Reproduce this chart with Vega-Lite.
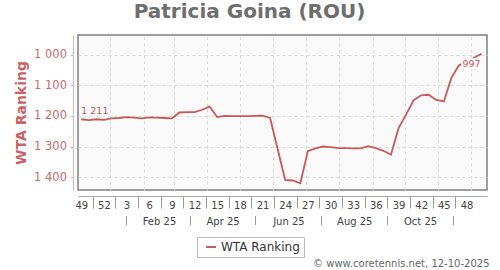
{
  "$schema": "https://vega.github.io/schema/vega-lite/v6.json",
  "width": 409,
  "height": 155,
  "autosize": {"type": "none"},
  "padding": {"left": 78, "top": 35, "right": 13, "bottom": 80},
  "background": "white",
  "title": {"text": "Patricia Goina (ROU)", "font": "DejaVu Sans", "fontSize": 20, "fontWeight": "bold", "color": "#6e6e6e", "baseline": "alphabetic", "offset": 15, "dy": 18, "dx": -33, "anchor": "middle"},
  "config": {
    "view": {"fill": "#fafafa", "stroke": "#808080", "strokeWidth": 1.5},
    "font": "DejaVu Sans"
  },
  "data": {
    "values": [
      {"date":"2024-12-05","rank":1211},{"date":"2024-12-12","rank":1214},{"date":"2024-12-19","rank":1211},{"date":"2024-12-26","rank":1213},
      {"date":"2025-01-02","rank":1208},{"date":"2025-01-09","rank":1207},{"date":"2025-01-16","rank":1204},{"date":"2025-01-23","rank":1206},
      {"date":"2025-01-30","rank":1208},{"date":"2025-02-06","rank":1205},{"date":"2025-02-13","rank":1206},{"date":"2025-02-20","rank":1207},
      {"date":"2025-02-27","rank":1208},{"date":"2025-03-06","rank":1189},{"date":"2025-03-13","rank":1188},{"date":"2025-03-20","rank":1188},
      {"date":"2025-03-27","rank":1180},{"date":"2025-04-03","rank":1170},{"date":"2025-04-10","rank":1204},{"date":"2025-04-17","rank":1200},
      {"date":"2025-04-24","rank":1201},{"date":"2025-05-01","rank":1201},{"date":"2025-05-08","rank":1201},{"date":"2025-05-15","rank":1200},
      {"date":"2025-05-22","rank":1199},{"date":"2025-05-29","rank":1207},{"date":"2025-06-05","rank":1308},{"date":"2025-06-12","rank":1409},
      {"date":"2025-06-19","rank":1411},{"date":"2025-06-26","rank":1420},{"date":"2025-07-03","rank":1315},{"date":"2025-07-10","rank":1306},
      {"date":"2025-07-17","rank":1300},{"date":"2025-07-24","rank":1302},{"date":"2025-07-31","rank":1305},{"date":"2025-08-07","rank":1305},
      {"date":"2025-08-14","rank":1306},{"date":"2025-08-21","rank":1306},{"date":"2025-08-28","rank":1299},{"date":"2025-09-04","rank":1305},
      {"date":"2025-09-11","rank":1314},{"date":"2025-09-18","rank":1327},{"date":"2025-09-25","rank":1241},{"date":"2025-10-02","rank":1196},
      {"date":"2025-10-09","rank":1149},{"date":"2025-10-16","rank":1133},{"date":"2025-10-23","rank":1131},{"date":"2025-10-30","rank":1148},
      {"date":"2025-11-06","rank":1153},{"date":"2025-11-13","rank":1076},{"date":"2025-11-20","rank":1035},{"date":"2025-11-27","rank":1024},
      {"date":"2025-12-04","rank":1010},{"date":"2025-12-11","rank":997}
    ],
    "format": {"parse": {"date": "utc:'%Y-%m-%d'"}}
  },
  "resolve": {"axis": {"x": "independent", "y": "independent"}},
  "layer": [
    {
      "mark": {"type": "line", "strokeWidth": 1.8},
      "encoding": {
        "x": {
          "field": "date", "type": "temporal",
          "scale": {"type": "utc", "domain": [{"year": 2024, "month": 12, "date": 2, "utc": true}, {"year": 2025, "month": 12, "date": 16, "utc": true}]},
          "axis": {
            "orient": "bottom", "title": null, "labels": false, "ticks": false, "domain": false, "grid": true,
            "gridColor": "#d9d9d9", "gridDash": [3, 3],
            "values": [
              {"year": 2025, "month": 1, "date": 1, "utc": true}, {"year": 2025, "month": 2, "date": 1, "utc": true},
              {"year": 2025, "month": 3, "date": 1, "utc": true}, {"year": 2025, "month": 4, "date": 1, "utc": true},
              {"year": 2025, "month": 5, "date": 1, "utc": true}, {"year": 2025, "month": 6, "date": 1, "utc": true},
              {"year": 2025, "month": 7, "date": 1, "utc": true}, {"year": 2025, "month": 8, "date": 1, "utc": true},
              {"year": 2025, "month": 9, "date": 1, "utc": true}, {"year": 2025, "month": 10, "date": 1, "utc": true},
              {"year": 2025, "month": 11, "date": 1, "utc": true}, {"year": 2025, "month": 12, "date": 1, "utc": true}
            ]
          }
        },
        "y": {
          "field": "rank", "type": "quantitative",
          "scale": {"domain": [936, 1442], "reverse": true, "nice": false, "zero": false},
          "axis": {
            "orient": "left",
            "values": [1000, 1100, 1200, 1300, 1400],
            "labelExpr": "replace(format(datum.value, ','), ',', ' ')",
            "labelOverlap": false, "offset": 5,
            "domainColor": "#e2b3b3", "tickColor": "#e2b3b3", "tickSize": 3,
            "labelColor": "#cc6a6a", "labelFont": "DejaVu Sans", "labelFontSize": 11.5, "labelPadding": 3.5,
            "gridColor": "#d9d9d9", "gridDash": [3, 3],
            "title": "WTA Ranking", "titleColor": "#c96363", "titleFont": "DejaVu Sans", "titleFontSize": 14, "titleFontWeight": "bold", "titlePadding": 5
          }
        },
        "color": {
          "datum": "WTA Ranking", "type": "nominal",
          "scale": {"range": ["#c85a5a"]},
          "legend": {
            "title": null, "orient": "none", "legendX": 119, "legendY": 202,
            "strokeColor": "#bbbbbb", "padding": 4, "cornerRadius": 0,
            "labelFont": "DejaVu Sans", "labelFontSize": 12, "labelColor": "#333333", "labelOffset": 4,
            "symbolType": "stroke", "symbolSize": 100, "symbolStrokeWidth": 2, "symbolOffset": 4
          }
        }
      }
    },
    {
      "transform": [{"filter": "time(datum.date) == utc(2024, 11, 5)"}],
      "mark": {"type": "text", "align": "left", "baseline": "alphabetic", "dy": -5, "fontSize": 9.5, "font": "DejaVu Sans", "color": "#c85a5a",
               "text": {"expr": "replace(format(datum.rank, ','), ',', ' ')"}},
      "encoding": {
        "x": {
          "field": "date", "type": "temporal",
          "axis": {
            "orient": "bottom", "title": null, "offset": 6, "domain": true, "domainColor": "#aaaaaa", "grid": false,
            "ticks": true, "tickSize": 12, "tickColor": "#999999", "tickOffset": 11.33,
            "tickOpacity": {"condition": {"test": "datum.value > utc(2025,10,20)", "value": 0}, "value": 1},
            "labelOffset": -11.33, "labelPadding": -8, "format": "%V",
            "labelExpr": "'' + toNumber(datum.label)",
            "labelFont": "DejaVu Sans", "labelFontSize": 10, "labelColor": "#444444",
            "labelOverlap": false, "labelBound": false, "labelFlush": false,
            "values": [
              {"year": 2024, "month": 12, "date": 5, "utc": true}, {"year": 2024, "month": 12, "date": 26, "utc": true},
              {"year": 2025, "month": 1, "date": 16, "utc": true}, {"year": 2025, "month": 2, "date": 6, "utc": true},
              {"year": 2025, "month": 2, "date": 27, "utc": true}, {"year": 2025, "month": 3, "date": 20, "utc": true},
              {"year": 2025, "month": 4, "date": 10, "utc": true}, {"year": 2025, "month": 5, "date": 1, "utc": true},
              {"year": 2025, "month": 5, "date": 22, "utc": true}, {"year": 2025, "month": 6, "date": 12, "utc": true},
              {"year": 2025, "month": 7, "date": 3, "utc": true}, {"year": 2025, "month": 7, "date": 24, "utc": true},
              {"year": 2025, "month": 8, "date": 14, "utc": true}, {"year": 2025, "month": 9, "date": 4, "utc": true},
              {"year": 2025, "month": 9, "date": 25, "utc": true}, {"year": 2025, "month": 10, "date": 16, "utc": true},
              {"year": 2025, "month": 11, "date": 6, "utc": true}, {"year": 2025, "month": 11, "date": 27, "utc": true}
            ]
          }
        },
        "y": {"field": "rank", "type": "quantitative", "axis": null}
      }
    },
    {
      "transform": [{"filter": "time(datum.date) == utc(2025, 11, 11)"}],
      "mark": {"type": "text", "align": "right", "baseline": "alphabetic", "dx": -1, "dy": 13, "fontSize": 9.5, "font": "DejaVu Sans", "fill": "#fafafa", "stroke": "#fafafa", "strokeWidth": 4,
               "text": {"expr": "replace(format(datum.rank, ','), ',', ' ')"}},
      "encoding": {
        "x": {
          "field": "date", "type": "temporal",
          "axis": {
            "orient": "bottom", "offset": 25.5, "domain": false, "grid": false,
            "ticks": true, "tickSize": 9, "tickColor": "#999999", "tickOffset": -33,
            "labelOffset": 33, "labelPadding": -8, "format": "%b %y",
            "labelExpr": "utcmonth(datum.value) == 11 ? '' : datum.label",
            "labelFont": "DejaVu Sans", "labelFontSize": 10, "labelColor": "#444444",
            "labelOverlap": false, "labelBound": false, "labelFlush": false,
            "values": [
              {"year": 2025, "month": 2, "date": 15, "utc": true}, {"year": 2025, "month": 4, "date": 15, "utc": true},
              {"year": 2025, "month": 6, "date": 15, "utc": true}, {"year": 2025, "month": 8, "date": 15, "utc": true},
              {"year": 2025, "month": 10, "date": 15, "utc": true}, {"year": 2025, "month": 12, "date": 15, "utc": true}
            ],
            "title": "© www.coretennis.net, 12-10-2025",
            "titleX": 411, "titleY": 51, "titleAlign": "right", "titleBaseline": "alphabetic",
            "titleFont": "DejaVu Sans", "titleFontSize": 10, "titleFontWeight": "normal", "titleColor": "#666666"
          }
        },
        "y": {"field": "rank", "type": "quantitative", "axis": null}
      }
    },
    {
      "transform": [{"filter": "time(datum.date) == utc(2025, 11, 11)"}],
      "mark": {"type": "text", "align": "right", "baseline": "alphabetic", "dx": -1, "dy": 13, "fontSize": 9.5, "font": "DejaVu Sans", "color": "#c85a5a",
               "text": {"expr": "replace(format(datum.rank, ','), ',', ' ')"}},
      "encoding": {
        "x": {"field": "date", "type": "temporal", "axis": null},
        "y": {"field": "rank", "type": "quantitative", "axis": null}
      }
    }
  ]
}
